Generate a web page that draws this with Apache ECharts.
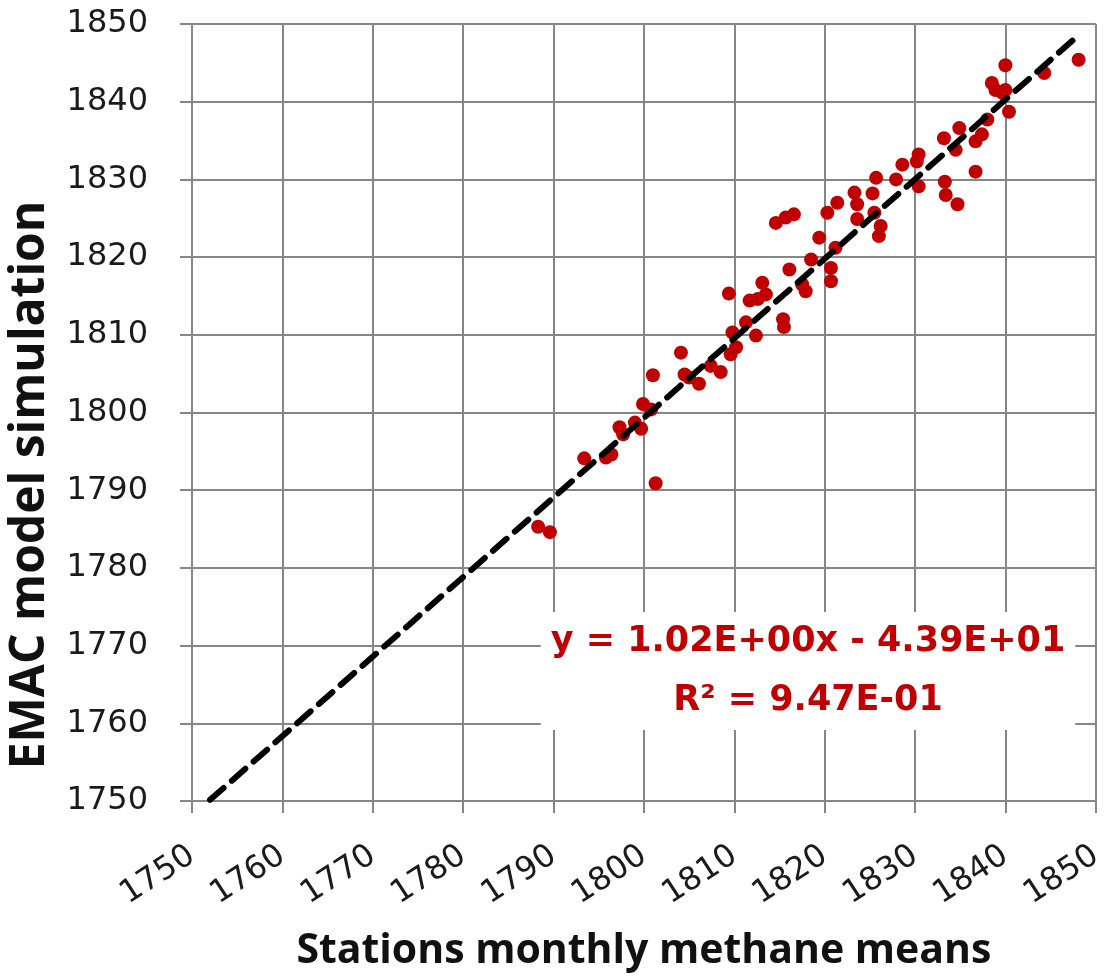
<!DOCTYPE html>
<html>
<head>
<meta charset="utf-8">
<title>EMAC vs stations methane</title>
<script src="https://cdn.jsdelivr.net/npm/echarts@6/dist/echarts.min.js"></script>
<style>
  html, body { margin: 0; padding: 0; background: #ffffff; }
  #chart { width: 1107px; height: 977px; }
</style>
</head>
<body>
<div id="chart"></div>
<script>
// Station monthly methane means (ppb) against EMAC simulated values
const stationMeans = [
  1788.3, 1789.6, 1793.4, 1795.8, 1796.4, 1801.3, 1797.3, 1797.7, 1799.0, 1799.7,
  1799.9, 1800.8, 1801.0, 1804.1, 1804.5, 1805.0, 1806.1, 1807.4, 1808.5, 1809.6,
  1809.8, 1810.2, 1809.4, 1811.3, 1812.4, 1811.7, 1813.1, 1813.5, 1812.6, 1815.4,
  1815.5, 1816.1, 1817.5, 1817.9, 1814.6, 1815.7, 1816.6, 1818.5, 1819.4, 1820.7,
  1820.7, 1821.2, 1820.3, 1821.4, 1823.3, 1823.6, 1823.6, 1825.3, 1825.7, 1825.5,
  1826.2, 1826.0, 1827.9, 1828.6, 1830.4, 1830.4, 1830.2, 1833.2, 1833.3, 1833.4,
  1834.7, 1834.9, 1834.5, 1836.7, 1837.4, 1836.7, 1838.0, 1838.5, 1838.9, 1839.7,
  1840.0, 1840.4, 1840.0, 1844.3, 1848.1
];
const emacSimulated = [
  1785.3, 1784.6, 1794.1, 1794.2, 1794.6, 1790.9, 1798.1, 1797.2, 1798.7, 1797.9,
  1801.1, 1800.4, 1804.8, 1807.7, 1804.9, 1804.5, 1803.7, 1806.0, 1805.2, 1807.5,
  1810.3, 1808.4, 1815.3, 1811.6, 1809.9, 1814.4, 1816.7, 1815.2, 1814.6, 1812.0,
  1811.0, 1818.4, 1816.5, 1815.6, 1824.4, 1825.1, 1825.5, 1819.7, 1822.5, 1818.6,
  1816.9, 1821.2, 1825.7, 1827.0, 1828.3, 1826.8, 1824.9, 1828.2, 1830.2, 1825.7,
  1824.0, 1822.7, 1830.0, 1831.9, 1833.2, 1829.1, 1832.3, 1835.3, 1829.7, 1828.0,
  1826.8, 1836.6, 1833.8, 1834.9, 1835.8, 1831.0, 1837.7, 1842.4, 1841.5, 1841.1,
  1841.5, 1838.7, 1844.7, 1843.7, 1845.4
];

// Linear fit drawn across the observed range
const fitSlope = 1.024;
const fitIntercept = -43.9;
const fitRange = [1752, 1848];
const fitLabel = ['y = 1.02E+00x - 4.39E+01', 'R\u00b2 = 9.47E-01'];

const axisMin = 1750;
const axisMax = 1850;
const axisStep = 10;
const xTitle = 'Stations monthly methane means';
const yTitle = 'EMAC model simulation';

const points = stationMeans.map((x, i) => [x, emacSimulated[i]]);
const fitLine = fitRange.map(x => [x, fitSlope * x + fitIntercept]);

const gridColor = '#868686';
const labelFont = 'DejaVu Sans';
const titleFont = 'Open Sans';
const plainNumber = v => String(v);

const chart = echarts.init(document.getElementById('chart'), null, { renderer: 'canvas' });

chart.setOption({
  animation: false,
  backgroundColor: '#ffffff',
  grid: { left: 192, right: 10, top: 24, bottom: 174, containLabel: false },
  xAxis: {
    type: 'value',
    min: axisMin, max: axisMax, interval: axisStep,
    name: xTitle,
    nameLocation: 'middle',
    nameGap: 130,
    nameTextStyle: { fontFamily: titleFont, fontWeight: 'bold', fontSize: 41, color: '#111111' },
    axisLine: { lineStyle: { color: gridColor, width: 2 } },
    axisTick: { show: true, inside: false, length: 12, lineStyle: { color: gridColor, width: 2 } },
    axisLabel: { rotate: 33, margin: 52, fontFamily: labelFont, fontSize: 32, color: '#1a1a1a', formatter: plainNumber },
    splitLine: { show: true, lineStyle: { color: gridColor, width: 2 } }
  },
  yAxis: {
    type: 'value',
    min: axisMin, max: axisMax, interval: axisStep,
    axisLine: { show: true, lineStyle: { color: gridColor, width: 2 } },
    axisTick: { show: true, inside: false, length: 12, lineStyle: { color: gridColor, width: 2 } },
    axisLabel: { margin: 44, fontFamily: labelFont, fontSize: 32, color: '#1a1a1a', formatter: plainNumber },
    splitLine: { show: true, lineStyle: { color: gridColor, width: 2 } }
  },
  series: [
    {
      type: 'scatter',
      data: points,
      symbol: 'circle',
      symbolSize: 14,
      itemStyle: { color: '#c00000', opacity: 1 },
      z: 3
    },
    {
      type: 'line',
      data: fitLine,
      symbol: 'none',
      lineStyle: { color: '#000000', width: 6, type: [18, 11], cap: 'round' },
      z: 4
    }
  ],
  graphic: [
    {
      type: 'text',
      x: 808,
      y: 612,
      z: 10,
      style: {
        text: fitLabel.join('\n'),
        align: 'center',
        verticalAlign: 'top',
        fontFamily: labelFont,
        fontWeight: 'bold',
        fontSize: 35,
        lineHeight: 59,
        fill: '#c00000',
        backgroundColor: '#ffffff',
        padding: [0, 10]
      }
    },
    {
      type: 'text',
      x: 30,
      y: 485,
      rotation: Math.PI / 2,
      z: 10,
      style: {
        text: yTitle,
        align: 'center',
        verticalAlign: 'middle',
        fontFamily: titleFont,
        fontWeight: 'bold',
        fontSize: 48,
        fill: '#111111'
      }
    }
  ]
});
</script>
</body>
</html>
